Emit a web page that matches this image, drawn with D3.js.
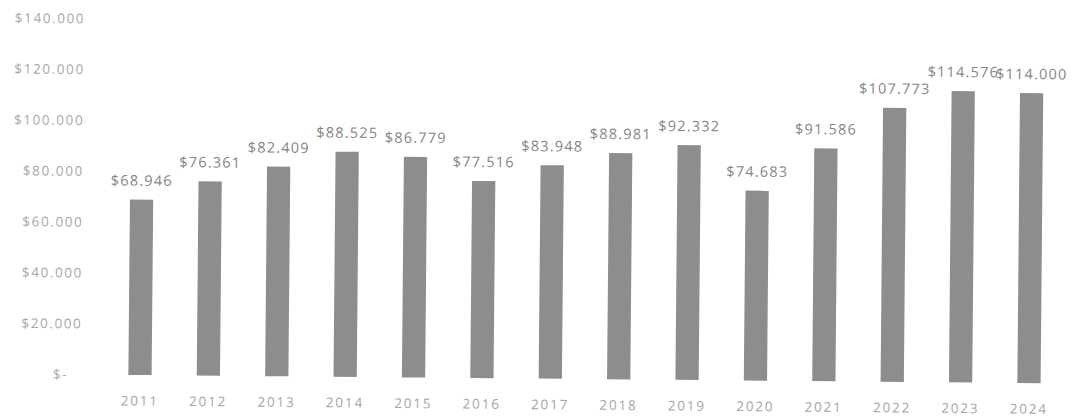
<!DOCTYPE html>
<html>
<head>
<meta charset="utf-8">
<script src="https://cdn.jsdelivr.net/npm/d3@7"></script>
<style>
  html, body { margin: 0; padding: 0; background: #ffffff; }
  svg { display: block; }
</style>
</head>
<body>
<svg id="chart" width="1076" height="417"></svg>
<script>
const years = ["2011","2012","2013","2014","2015","2016","2017","2018","2019","2020","2021","2022","2023","2024"];
const values = [68946, 76361, 82409, 88525, 86779, 77516, 83948, 88981, 92332, 74683, 91586, 107773, 114576, 114000];
const yTicks = [0, 20000, 40000, 60000, 80000, 100000, 120000, 140000];

const svg = d3.select("#chart");
const baseY = 375;
const g = svg.append("g").attr("transform", `rotate(0.52, 140, ${baseY})`);

const x = d3.scaleBand().domain(years).range([105.8, 1063.2]).paddingInner(0.66).paddingOuter(0.33);
const y = d3.scaleLinear().domain([0, 140000]).range([baseY, 19]);

const fmt = v => "$" + d3.format(",")(v).replace(/,/g, ".");

// Y axis
const yAxis = d3.axisLeft(y).tickValues(yTicks).tickSize(0).tickPadding(0)
  .tickFormat(v => v === 0 ? "$-" : fmt(v));
const ya = g.append("g").attr("transform", "translate(82,0)").call(yAxis);
ya.select(".domain").remove();
ya.selectAll("text")
  .attr("font-family", "Open Sans")
  .attr("font-size", 13.5)
  .attr("letter-spacing", "1.6px")
  .attr("fill", "#a8a8a8")
  .attr("x", d => d === 0 ? -14 : 0);

// X axis
const xAxis = d3.axisBottom(x).tickSize(0).tickPadding(0);
const xa = g.append("g").attr("transform", `translate(0,${baseY + 21})`).call(xAxis);
xa.select(".domain").remove();
xa.selectAll("text")
  .attr("font-family", "Open Sans")
  .attr("font-size", 13.5)
  .attr("letter-spacing", "1.8px")
  .attr("fill", "#a6a6a6");

// Bars
g.append("g").selectAll("rect").data(values).join("rect")
  .attr("x", (d, i) => x(years[i]))
  .attr("y", d => y(d))
  .attr("width", x.bandwidth())
  .attr("height", d => y(0) - y(d))
  .attr("fill", "#8d8d8d");

// Data labels
g.append("g").selectAll("text").data(values).join("text")
  .attr("x", (d, i) => x(years[i]) + x.bandwidth() / 2)
  .attr("y", d => y(d) - 14)
  .attr("text-anchor", "middle")
  .attr("font-family", "Open Sans")
  .attr("font-size", 14.5)
  .attr("letter-spacing", "1.2px")
  .attr("fill", "#858585")
  .text(d => fmt(d));
</script>
</body>
</html>
